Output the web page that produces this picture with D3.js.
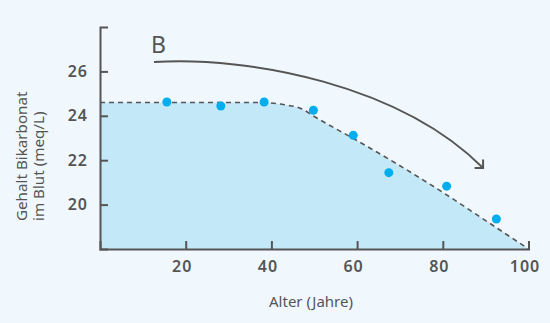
<!DOCTYPE html>
<html>
<head>
<meta charset="utf-8">
<script src="https://cdn.jsdelivr.net/npm/d3@7"></script>
<style>
  html, body { margin: 0; padding: 0; background: #f0f8fd; }
  svg { display: block; }
  .tick text { font-family: "Noto Sans", "Open Sans", sans-serif; font-weight: 600; font-size: 16px; letter-spacing: 1px; fill: #555; }
  .lbl { font-family: "Noto Sans", "Open Sans", sans-serif; fill: #555; }
</style>
</head>
<body>
<svg id="chart" width="550" height="323"></svg>
<script>
// Data
const xTicks = [20, 40, 60, 80, 100];
const yTicks = [20, 22, 24, 26];
const pointAges = [15.6, 28.2, 38.3, 49.8, 59.1, 67.4, 80.9, 92.5];
const pointValues = [24.62, 24.44, 24.62, 24.25, 23.12, 21.44, 20.83, 19.35];
const curveAges = [0, 37, 43, 47, 50, 60, 70, 80, 90, 100];
const curveValues = [24.6, 24.6, 24.5, 24.32, 23.97, 22.88, 21.75, 20.55, 19.28, 18];
const arrowAges = [12.6, 35, 70, 89.4];
const arrowValues = [26.42, 26.69, 25.39, 21.65];
const xTitle = "Alter (Jahre)";
const yTitle = ["Gehalt Bikarbonat", "im Blut (meq/L)"];
const panelLabel = "B";

const svg = d3.select("#chart");
svg.append("rect").attr("width", 550).attr("height", 323).attr("fill", "#f0f8fd");

const x = d3.scaleLinear().domain([0, 100]).range([100, 528.5]);
const y = d3.scaleLinear().domain([18, 28]).range([249, 27]);

const curveData = curveAges.map((a, i) => ({ a, v: curveValues[i] }));

// Area
svg.append("path")
  .datum(curveData)
  .attr("fill", "#c3e9f9")
  .attr("d", d3.area().x(d => x(d.a)).y0(y(18)).y1(d => y(d.v)).curve(d3.curveMonotoneX));

// Dashed line
svg.append("path")
  .datum(curveData)
  .attr("fill", "none")
  .attr("stroke", "#555")
  .attr("stroke-width", 1.6)
  .attr("stroke-dasharray", "5,4")
  .attr("d", d3.line().x(d => x(d.a)).y(d => y(d.v)).curve(d3.curveMonotoneX));

// Axes
const xAxis = svg.append("g").attr("transform", `translate(0,${y(18)})`)
  .call(d3.axisBottom(x).tickValues(xTicks).tickSize(-8).tickSizeOuter(-8).tickPadding(12));
xAxis.selectAll(".tick text").attr("dx", -4);
const yAxis = svg.append("g").attr("transform", `translate(${x(0)},0)`)
  .call(d3.axisLeft(y).tickValues(yTicks).tickSize(-8).tickSizeOuter(-8).tickPadding(12));
[xAxis, yAxis].forEach(g => {
  g.select(".domain").attr("stroke", "#555").attr("stroke-width", 2);
  g.selectAll(".tick line").attr("stroke", "#555").attr("stroke-width", 2);
});

// Dots
svg.append("g").selectAll("circle")
  .data(pointAges.map((a, i) => ({ a, v: pointValues[i] })))
  .join("circle")
  .attr("cx", d => x(d.a))
  .attr("cy", d => y(d.v))
  .attr("r", 4.5)
  .attr("fill", "#00aeef");

// Arrow
const defs = svg.append("defs");
defs.append("marker")
  .attr("id", "chev")
  .attr("markerUnits", "userSpaceOnUse")
  .attr("viewBox", "-10 -10 20 20")
  .attr("markerWidth", 20).attr("markerHeight", 20)
  .attr("refX", 0).attr("refY", 0)
  .attr("orient", "auto")
  .append("path")
  .attr("d", "M-6,-6L0,0L-6,6")
  .attr("fill", "none")
  .attr("stroke", "#555")
  .attr("stroke-width", 2);

const ap = arrowAges.map((a, i) => [x(a), y(arrowValues[i])]);
const arrowPath = d3.path();
arrowPath.moveTo(ap[0][0], ap[0][1]);
arrowPath.bezierCurveTo(ap[1][0], ap[1][1], ap[2][0], ap[2][1], ap[3][0], ap[3][1]);
svg.append("path")
  .attr("d", arrowPath.toString())
  .attr("fill", "none")
  .attr("stroke", "#555")
  .attr("stroke-width", 2)
  .attr("marker-end", "url(#chev)");

// Panel label
svg.append("text").attr("class", "lbl")
  .attr("x", 151).attr("y", 52.5)
  .attr("font-size", 23)
  .text(panelLabel);

// Axis titles
svg.append("text").attr("class", "lbl")
  .attr("x", 311).attr("y", 306.5)
  .attr("text-anchor", "middle")
  .attr("font-size", 15)
  .text(xTitle);

const yt = svg.append("text").attr("class", "lbl")
  .attr("transform", "rotate(-90)")
  .attr("font-size", 15.2)
  .attr("text-anchor", "start");
yt.append("tspan").attr("x", -221).attr("y", 26.5).text(yTitle[0]);
yt.append("tspan").attr("x", -221).attr("y", 44).text(yTitle[1]);
</script>
</body>
</html>
